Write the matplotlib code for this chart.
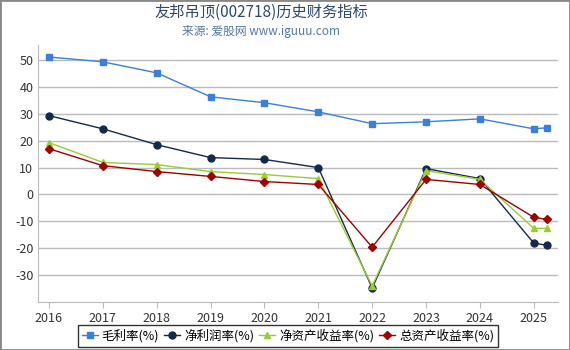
import matplotlib
matplotlib.use('Agg')
import matplotlib.pyplot as plt

plt.rcParams['font.family'] = ['Noto Sans CJK SC', 'DejaVu Sans']
plt.rcParams['axes.unicode_minus'] = False

# 数据
x_pos = [2016, 2017, 2018, 2019, 2020, 2021, 2022, 2023, 2024, 2025, 2025.25]
year_ticks = [2016, 2017, 2018, 2019, 2020, 2021, 2022, 2023, 2024, 2025]
gross = [51.1, 49.3, 45.2, 36.3, 34.1, 30.7, 26.3, 27.0, 28.1, 24.4, 24.8]
net = [29.3, 24.4, 18.5, 13.7, 13.0, 10.0, -34.8, 9.6, 5.9, -18.1, -18.9]
roe = [19.3, 11.9, 11.1, 8.5, 7.4, 5.9, -34.0, 8.9, 5.6, -12.6, -12.6]
roa = [17.0, 10.7, 8.5, 6.7, 4.8, 3.7, -19.6, 5.6, 3.7, -8.5, -9.3]

fig = plt.figure(figsize=(5.7, 3.5), dpi=100)
ax = fig.add_axes([0.067, 0.137, 0.912, 0.734])

ax.plot(x_pos, gross, color='#3a80d8', marker='s', ms=5, lw=1, label='毛利率(%)')
ax.plot(x_pos, net, color='#15294a', marker='o', ms=5, lw=1, label='净利润率(%)')
ax.plot(x_pos, roe, color='#99cc33', marker='^', ms=5, lw=1, label='净资产收益率(%)')
ax.plot(x_pos, roa, color='#a00000', marker='D', ms=4, lw=1, label='总资产收益率(%)')

ax.set_ylim(-40, 55.5)
ax.set_xlim(2015.8, 2025.45)
ax.set_yticks([-30, -20, -10, 0, 10, 20, 30, 40, 50])
ax.set_xticks(year_ticks)
ax.grid(axis='y', color='#bbbbbb', lw=1)
ax.set_axisbelow(True)
for s in ['top', 'right']:
    ax.spines[s].set_visible(False)
for s in ['left', 'bottom']:
    ax.spines[s].set_color('#bbbbbb')
ax.tick_params(axis='y', length=0, labelsize=9, colors='#333333')
ax.tick_params(axis='x', length=4, color='#bbbbbb', labelsize=9, labelcolor='#333333')

fig.text(0.458, 0.965, '友邦吊顶(002718)历史财务指标', ha='center', va='center',
         fontsize=11, color='#2d4a6b')
fig.text(0.458, 0.91, '来源: 爱股网 www.iguuu.com', ha='center', va='center',
         fontsize=8.5, color='#5577a0')

leg = fig.legend(loc='center', bbox_to_anchor=(0.505, 0.04), ncol=4, fontsize=9,
                 frameon=True, fancybox=False, edgecolor='black',
                 handlelength=1.3, handletextpad=0.3, columnspacing=0.4,
                 borderpad=0.3, borderaxespad=0)
leg.get_frame().set_linewidth(1)

# 外框
fig.patches.append(plt.Rectangle((0, 0), 1, 1, transform=fig.transFigure,
                                 fill=False, edgecolor='#888888', lw=2))

fig.savefig('out.png', dpi=100)
